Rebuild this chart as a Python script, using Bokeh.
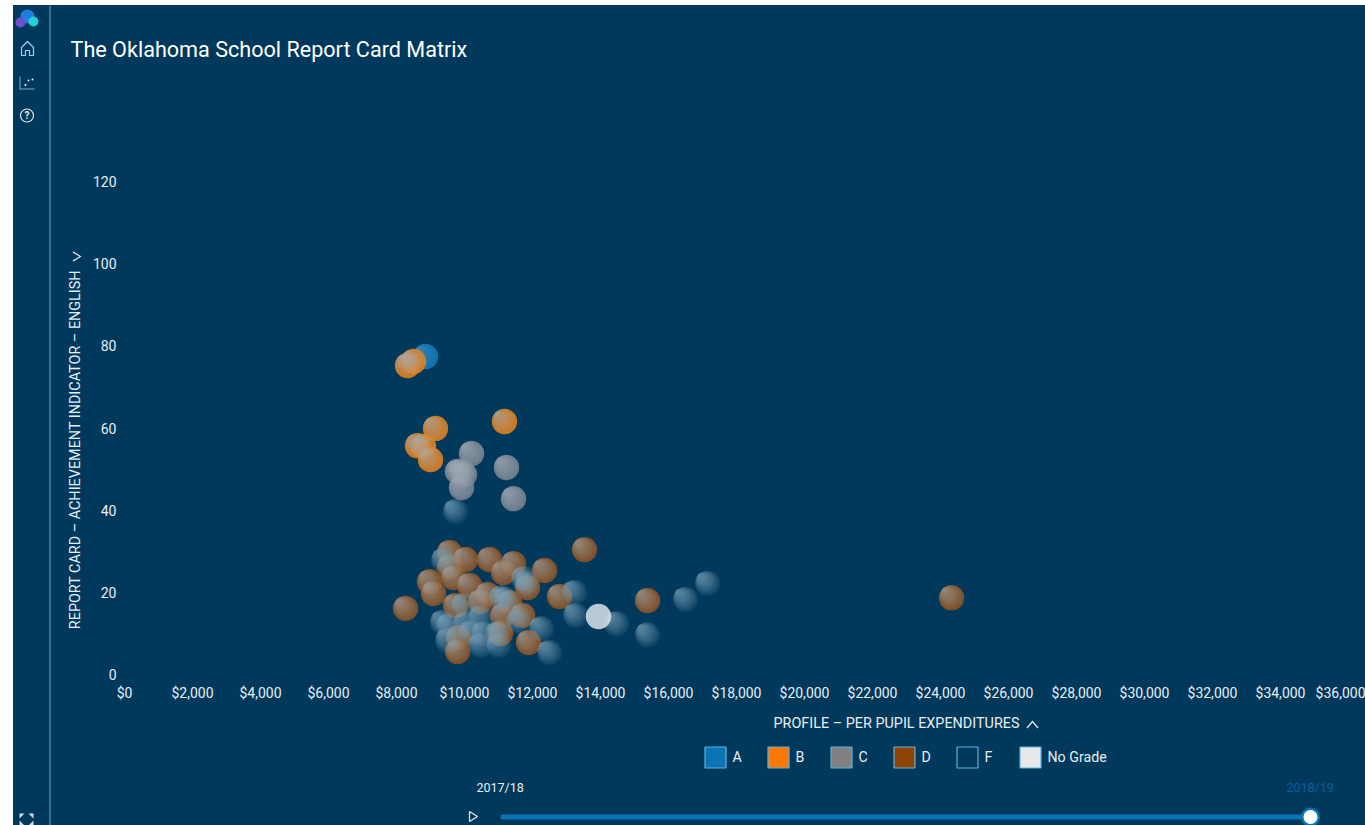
from bokeh.plotting import figure
from bokeh.embed import file_html
from bokeh.resources import INLINE
from bokeh.models import (ColumnDataSource, FixedTicker, NumeralTickFormatter, Label,
                          BoxAnnotation, PolyAnnotation, Range1d)

chart_title = "The Oklahoma School Report Card Matrix"
x_title = "PROFILE – PER PUPIL EXPENDITURES"
y_title = "REPORT CARD – ACHIEVEMENT INDICATOR – ENGLISH"
x_ticks = list(range(0, 36001, 2000))
y_ticks = [0, 20, 40, 60, 80, 100, 120]
grades = ["A", "B", "C", "D", "F", "No Grade"]
legend_colors = ["#0a74b5", "#ff7800", "#808080", "#8f4407", None, "#e8e8e8"]
years = ["2017/18", "2018/19"]

a_x = [8853]
a_y = [77.4]
b_x = [8500, 8324, 9147, 8618, 8794, 9000, 11176]
b_y = [76.2, 75.2, 59.9, 55.7, 55.5, 52.3, 61.6]
c_x = [10206, 11235, 11441, 9794, 9912, 10000, 9912]
c_y = [53.8, 50.4, 42.8, 49.4, 49.4, 48.7, 45.5]
d_x = [8265, 13529, 9559, 10029, 10735, 11441, 11147, 12353, 8971, 9088, 9559, 9676, 10147,
       10676, 10471, 11853, 12794, 9735, 11324, 11706, 11118, 11882, 9794, 11059, 9824, 15382, 24324]
d_y = [16.1, 30.4, 29.7, 28.0, 28.0, 27.0, 24.8, 25.3, 22.6, 19.7, 26.3, 23.6, 21.7,
       19.5, 17.8, 21.2, 19.0, 16.8, 17.5, 14.4, 14.4, 7.8, 5.6, 10.0, 9.0, 18.0, 18.7]
f_x = [9735, 9382, 11735, 11824, 13235, 13265, 9971, 11088, 11206, 11588, 12265, 12500, 10971,
       9353, 9529, 9500, 10029, 10176, 10471, 10471, 11000, 10559, 14471, 16500, 17147, 15382]
f_y = [39.7, 27.8, 23.4, 22.2, 20.0, 14.4, 16.8, 18.7, 18.3, 12.9, 11.2, 5.4, 10.0,
       12.7, 11.9, 8.3, 12.4, 10.2, 13.9, 7.1, 7.1, 10.0, 12.4, 18.3, 22.2, 9.7]
n_x = [13941]
n_y = [14.1]

BG = "#00395b"
TXT = "#e8eef2"
SIDE = "#5fb0e0"
OX, OY = 13, 5          # page position of the canvas corner
W, H = 1352, 820
X0, Y0 = 124, 674       # page position of the $0 / 0 origin
px_x = 34 / 1000        # pixels per dollar
px_y = (Y0 - 181) / 120  # pixels per score point

p = figure(width=W, height=H, output_backend="svg", toolbar_location=None,
           x_range=Range1d((OX - X0) / px_x, (OX + W - X0) / px_x),
           y_range=Range1d((Y0 - (OY + H)) / px_y, (Y0 - OY) / px_y),
           min_border=0, background_fill_color=None, border_fill_color=None,
           outline_line_color=None)
p.margin = (OY, 0, 0, OX)
p.styles = {"background-color": BG}
p.grid.visible = False

for ax, ticks in ((p.xaxis[0], x_ticks), (p.yaxis[0], y_ticks)):
    ax.ticker = FixedTicker(ticks=ticks)
    ax.fixed_location = 0
    ax.axis_line_color = None
    ax.major_tick_line_color = None
    ax.minor_tick_line_color = None
    ax.major_label_text_color = TXT
    ax.major_label_text_font = "Roboto"
    ax.major_label_text_font_size = "14px"
p.xaxis[0].formatter = NumeralTickFormatter(format="$0,0")
p.xaxis[0].major_label_standoff = 4
p.yaxis[0].major_label_standoff = 2

# bubbles: base disc + a stack of discs tangent at upper-left to imitate the sphere shading
R = 12.7
LAYERS = 10
styles = [
    (a_x, a_y, "#0a74b5", 0.95, "#a2b2bb", 0.04),
    (b_x, b_y, "#e97a08", 0.88, "#a2b2bb", 0.10),
    (c_x, c_y, "#72808c", 0.88, "#a2b2bb", 0.10),
    (d_x, d_y, "#8a4a15", 0.88, "#a2b2bb", 0.09),
    (f_x, f_y, None, 0.0, "#7aa2ba", 0.13),
    (n_x, n_y, "#dbe4ea", 0.85, "#c5d4dd", 0.04),
]
for xs, ys, base, base_a, hi, hi_a in styles:
    if base:
        p.circle(xs, ys, radius=R, radius_units="screen", fill_color=base, fill_alpha=base_a, line_color=None)
    for i in range(LAYERS):
        r = R * (1 - i / LAYERS)
        d = (R - r) * 0.7071
        src = ColumnDataSource(dict(x=[v - d / px_x for v in xs], y=[v + d / px_y for v in ys]))
        p.circle("x", "y", radius=r, radius_units="screen", source=src,
                 fill_color=hi, fill_alpha=hi_a, line_color=None)


def cx(v):
    return v - OX


def cy(v):
    return OY + H - v


def label(text, x, y, size=14, color=TXT, align="left", angle=0.0, style="normal"):
    p.add_layout(Label(x=cx(x), y=cy(y), x_units="screen", y_units="screen", text=text,
                       text_color=color, text_font="Roboto", text_font_size=f"{size}px",
                       text_font_style=style, text_align=align, text_baseline="middle", angle=angle))


def poly(xs, ys, fill=None, line=None, width=1.0):
    p.add_layout(PolyAnnotation(xs=[cx(v) for v in xs], ys=[cy(v) for v in ys],
                                xs_units="screen", ys_units="screen",
                                fill_color=fill, fill_alpha=1 if fill else 0,
                                line_color=line, line_alpha=1 if line else 0, line_width=width))


def box(l, t, r, b, fill=None, line=None, width=1.0, radius=0):
    p.add_layout(BoxAnnotation(left=cx(l), right=cx(r), top=cy(t), bottom=cy(b),
                               left_units="screen", right_units="screen",
                               top_units="screen", bottom_units="screen",
                               fill_color=fill, fill_alpha=1 if fill else 0,
                               line_color=line, line_alpha=1 if line else 0, line_width=width,
                               border_radius=int(round(radius)), editable=False))


def dot(x, y, r, fill=None, line=None, width=1.0):
    box(x - r, y - r, x + r, y + r, fill, line, width, r + 0.5)


# titles
label(chart_title, 70, 49, 21.6, color="#ffffff")
label(x_title, 773, 723, 14.4)
poly([1026, 1032, 1038, 1037, 1032, 1027], [727, 720, 727, 728, 722, 728], fill=TXT)
label(y_title, 75, 449, 14.4, align="center", angle=1.5708)
poly([73, 81, 73, 72, 79, 72], [251, 256, 261, 260, 256, 252], fill=TXT)

# legend
for g, col, sx, tx in zip(grades, legend_colors, [704, 767, 830, 893, 956, 1019],
                          [732, 795, 858, 921, 984, 1047]):
    box(sx + 0.5, 746.5, sx + 21.5, 767.5, fill=col, line=SIDE, width=1.2)
    label(g, tx, 756, 14.2)

# time slider
label(years[0], 476, 787, 12.5)
label(years[1], 1286, 787, 12.5, color="#0a5fa0")
box(500, 814, 1310, 819, fill="#0a74b5", radius=2)
dot(1310, 816.5, 9.5, fill="#0a74b5")
dot(1310, 816.5, 7, fill="#ffffff")
poly([469, 477, 469], [811, 816, 821], line=TXT, width=1.2)

# side bar
box(49, OY, 50, 825, fill=SIDE)
dot(27, 16, 7, fill="#1f7fe0")
dot(20, 22, 5, fill="#6a4fd0")
dot(33, 21, 5, fill="#1fd0d8")
poly([21, 27, 33, 33, 29, 29, 25, 25, 21], [47, 41, 47, 55, 55, 50, 50, 55, 55], line="#a8d0e8", width=1.2)
poly([19, 20, 20, 34, 34, 19], [76, 76, 88, 88, 89, 89], fill="#6fb4dc")
dot(25, 84.5, 1, fill="#ffffff")
dot(28, 80, 1, fill="#ffffff")
dot(32, 79, 1, fill="#ffffff")
dot(26.5, 115, 6.5, line="#d8e8f2", width=1.2)
label("?", 26.5, 115, 10, color="#e8eef2", align="center", style="bold")
for sx, sy, dx, dy in [(19, 813, 1, 1), (33, 813, -1, 1), (19, 825, 1, -1), (33, 825, -1, -1)]:
    poly([sx, sx + 5 * dx, sx], [sy, sy, sy + 5 * dy], fill="#d0dfe8")

open("out.html", "w").write(file_html(p, INLINE))
